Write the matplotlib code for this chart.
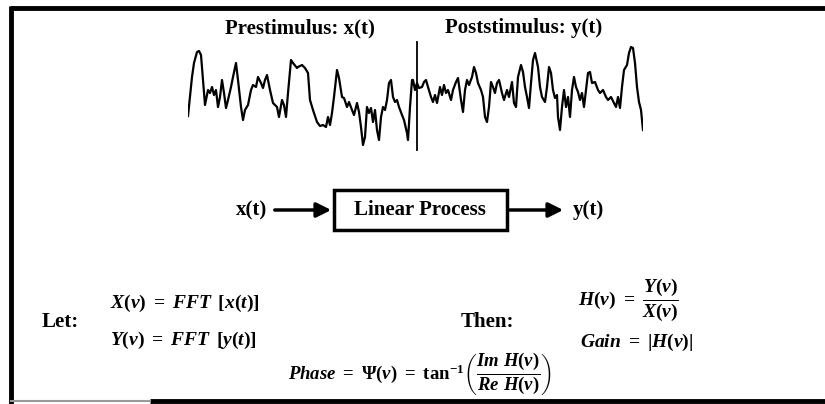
import matplotlib
matplotlib.use("Agg")
import matplotlib.pyplot as plt
from matplotlib.patches import Rectangle

# signal trace (time in arbitrary units, amplitude in arbitrary units)
sig_t = [0, 4, 6, 9, 11, 13, 15, 17, 19, 20, 22, 24, 26, 28, 30, 32, 34, 36, 38, 40, 43, 45, 48, 50, 53,
         55, 57, 60, 63, 65, 68, 70, 73, 75, 77, 79, 82, 85, 89, 91, 94, 96, 98, 100, 103, 105, 109,
         110, 114, 117, 120, 122, 125, 129, 132, 135, 138, 140, 142, 144, 146, 149, 151, 154, 156, 159,
         161, 164, 166, 169, 171, 173, 175, 177, 179, 181, 183, 185, 187, 189, 191, 193, 195, 197, 199,
         201, 203, 205, 207, 209, 211, 214, 216, 219, 220, 222, 224,
         225, 227, 229, 231, 234, 236, 238, 240, 243, 245, 247, 249, 252, 254, 256, 258, 260, 263, 265,
         268, 270, 273, 275, 277, 279, 281, 284, 286, 288, 290, 293, 295, 297, 299, 301, 303, 305, 307,
         309, 311, 314, 316, 319, 321, 324, 326, 328, 330, 333, 335, 337,
         339, 341, 343, 345, 347, 350, 352, 354, 357, 359, 361, 363, 365, 367, 369, 370, 372, 374, 376,
         378, 380, 382, 384, 386, 388, 390, 392, 394, 396, 398, 400, 402, 404, 407, 410, 412, 415, 418,
         420, 423, 426, 428, 430, 432, 434, 436, 439, 441, 443, 445, 447, 449, 451, 453, 455]
sig_v = [34, 73, 87, 98, 99, 95, 70, 45, 55, 60, 57, 63, 55, 60, 43, 53, 70, 57, 42, 50, 63, 73, 87, 70,
         43, 30, 40, 45, 60, 65, 63, 73, 67, 62, 70, 75, 60, 47, 43, 33, 50, 45, 33, 57, 90, 87, 82,
         83, 85, 82, 77, 50, 40, 28, 24, 25, 23, 33, 25, 37, 53, 80, 72, 53, 52, 43, 48, 40, 35, 47,
         38, 23, 5, 13, 43, 37, 42, 28, 40, 20, 10, 33, 43, 40, 50, 67, 70, 53, 48, 50, 43, 35, 30,
         17, 10, 43, 70,
         70, 60, 67, 62, 63, 68, 70, 63, 53, 48, 55, 47, 63, 55, 65, 57, 60, 50, 60, 68, 72, 50, 38,
         60, 70, 65, 73, 83, 77, 67, 60, 53, 33, 28, 43, 68, 63, 57, 67, 70, 57, 50, 60, 53, 68, 47,
         43, 73, 85, 78, 63,
         53, 42, 67, 90, 97, 83, 63, 53, 48, 63, 83, 77, 60, 52, 55, 33, 20, 43, 60, 43, 53, 33, 60,
         73, 63, 58, 50, 57, 43, 60, 77, 78, 67, 68, 60, 57, 60, 53, 50, 53, 47, 43, 53, 42, 63, 80,
         85, 97, 103, 102, 87, 63, 48, 40, 20]
stim_t = 229

plt.rcParams['font.family'] = 'Liberation Serif'
plt.rcParams['font.weight'] = 'bold'
plt.rcParams['mathtext.fontset'] = 'custom'
plt.rcParams['mathtext.rm'] = 'Liberation Serif:bold'
plt.rcParams['mathtext.it'] = 'Liberation Serif:bold:italic'
plt.rcParams['mathtext.bf'] = 'Liberation Serif:bold'

W, H = 825, 404
fig = plt.figure(figsize=(W / 100, H / 100), dpi=100)
ax = fig.add_axes([0, 0, 1, 1])
ax.set_xlim(0, W)
ax.set_ylim(H, 0)
ax.axis('off')

# frame (cropped on the right)
ax.plot([10, W], [8, 8], color='black', lw=3.5, solid_capstyle='butt')
ax.plot([11, 11], [6, H], color='black', lw=3.5, solid_capstyle='butt')
ax.plot([150, W], [401, 401], color='black', lw=3.5, solid_capstyle='butt')
ax.plot([11, 150], [401, 401], color='0.6', lw=1.5)

# signal
ax_sig = fig.add_axes([188 / W, 1 - 150 / H, 455 / W, 105 / H])
ax_sig.set_xlim(0, 455)
ax_sig.set_ylim(0, 105)
ax_sig.axis('off')
ax_sig.plot(sig_t, sig_v, color='black', lw=1.6)
ax_sig.axvline(stim_t, ymin=0, ymax=1.03, color='black', lw=1.3, clip_on=False)

ax.text(300, 28, 'Prestimulus: x(t)', ha='center', va='center', fontsize=15)
ax.text(524, 28, 'Poststimulus: y(t)', ha='center', va='center', fontsize=15)

# block diagram
ax.text(252, 210, 'x(t)', ha='center', va='center', fontsize=15)
ax.annotate('', xy=(334, 210), xytext=(272, 210),
            arrowprops=dict(arrowstyle='-|>', lw=2.5, color='black', mutation_scale=22))
ax.add_patch(Rectangle((334, 190), 173, 40, fill=False, lw=2.5, edgecolor='black'))
ax.text(420, 210, 'Linear Process', ha='center', va='center', fontsize=15)
ax.annotate('', xy=(566, 210), xytext=(507, 210),
            arrowprops=dict(arrowstyle='-|>', lw=2.5, color='black', mutation_scale=22))
ax.text(588, 210, 'y(t)', ha='center', va='center', fontsize=15)

# equations
ax.text(60, 322, 'Let:', ha='center', va='center', fontsize=15)
ax.text(110, 303, r'$X(\nu)\ =\ FFT\ \,[x(t)]$', ha='left', va='center', fontsize=14)
ax.text(110, 340, r'$Y(\nu)\ =\ FFT\ \,[y(t)]$', ha='left', va='center', fontsize=14)
ax.text(487, 322, 'Then:', ha='center', va='center', fontsize=15)
ax.text(578, 300, r'$H(\nu)\ =\ \dfrac{Y(\nu)}{X(\nu)}$', ha='left', va='center', fontsize=14)
ax.text(580, 342, r'$Gain\ =\ |H(\nu)|$', ha='left', va='center', fontsize=14)
ax.text(420, 374, r'$Phase\ =\ \Psi(\nu)\ =\ \mathrm{tan}^{-1}\left(\dfrac{Im\ H(\nu)}{Re\ H(\nu)}\right)$',
        ha='center', va='center', fontsize=13.5)

fig.savefig('out.png', dpi=100)
